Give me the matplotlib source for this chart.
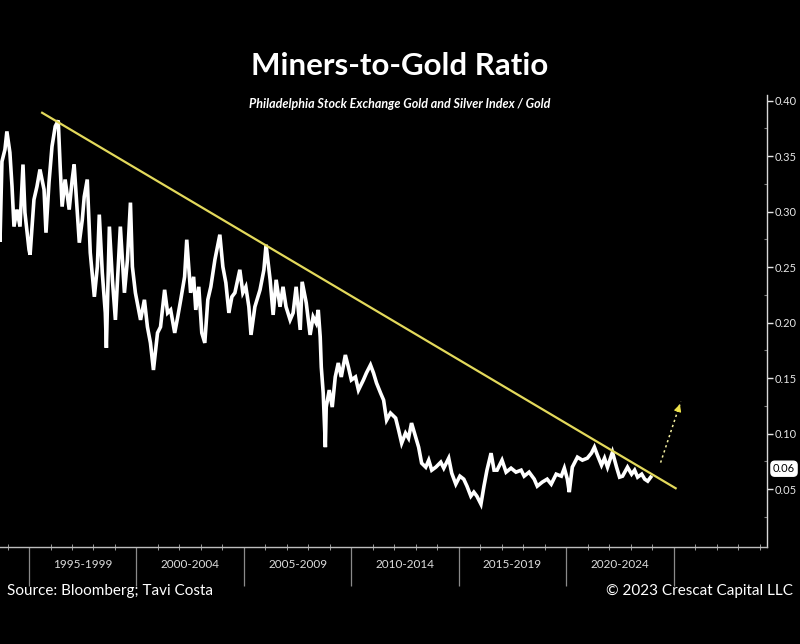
import matplotlib
matplotlib.use("Agg")
import matplotlib.pyplot as plt
import matplotlib.transforms as mtransforms
from matplotlib.ticker import FixedLocator

# ---------------- data ----------------
years = [
    1993.55, 1993.65, 1993.74, 1993.88, 1993.97, 1994.11, 1994.21, 1994.30, 1994.44, 1994.58,
    1994.72, 1994.81, 1995.00, 1995.05, 1995.23, 1995.37, 1995.51, 1995.70, 1995.79, 1995.93,
    1996.07, 1996.22, 1996.36, 1996.45, 1996.54, 1996.68, 1996.87, 1997.01, 1997.10, 1997.24,
    1997.34, 1997.48, 1997.57, 1997.71, 1997.85, 1998.04, 1998.18, 1998.27, 1998.41, 1998.55,
    1998.60, 1998.74, 1998.88, 1999.02, 1999.25, 1999.44, 1999.58, 1999.72, 1999.81, 1999.95,
    2000.19, 2000.37, 2000.51, 2000.65, 2000.79, 2000.98, 2001.12, 2001.31, 2001.45, 2001.59,
    2001.78, 2001.92, 2002.06, 2002.24, 2002.34, 2002.52, 2002.66, 2002.76, 2002.90, 2003.04,
    2003.18, 2003.32, 2003.46, 2003.65, 2003.88, 2004.02, 2004.16, 2004.30, 2004.44, 2004.58,
    2004.81, 2004.95, 2005.09, 2005.23, 2005.33, 2005.51, 2005.75, 2005.93, 2006.03, 2006.22,
    2006.36, 2006.50, 2006.68, 2006.82, 2006.96, 2007.15, 2007.29, 2007.43, 2007.62, 2007.71,
    2007.90, 2008.08, 2008.22, 2008.36, 2008.46, 2008.55, 2008.60, 2008.69, 2008.79, 2008.83,
    2008.97, 2009.11, 2009.25, 2009.39, 2009.53, 2009.72, 2009.86, 2010.00, 2010.19, 2010.33,
    2010.56, 2010.70, 2010.89, 2011.03, 2011.17, 2011.36, 2011.50, 2011.64, 2011.82, 2012.06,
    2012.20, 2012.34, 2012.52, 2012.66, 2012.80, 2012.99, 2013.13, 2013.27, 2013.46, 2013.60,
    2013.74, 2013.93, 2014.16, 2014.30, 2014.53, 2014.67, 2014.86, 2015.05, 2015.23, 2015.38,
    2015.56, 2015.70, 2015.84, 2016.03, 2016.17, 2016.31, 2016.50, 2016.64, 2016.78, 2017.01,
    2017.20, 2017.43, 2017.66, 2017.90, 2018.04, 2018.27, 2018.51, 2018.65, 2018.88, 2019.11,
    2019.30, 2019.53, 2019.77, 2019.91, 2020.05, 2020.14, 2020.28, 2020.52, 2020.75, 2020.98,
    2021.17, 2021.31, 2021.45, 2021.64, 2021.78, 2021.92, 2022.15, 2022.34, 2022.48, 2022.62,
    2022.85, 2023.04, 2023.18, 2023.32, 2023.51, 2023.65, 2023.79, 2023.93,
]
ratio = [
    0.3180, 0.2729, 0.3451, 0.3559, 0.3722, 0.3532, 0.3226, 0.2865, 0.3018, 0.2865,
    0.3424, 0.2991, 0.2657, 0.2612, 0.3108, 0.3226, 0.3379, 0.3198, 0.2810, 0.3262,
    0.3587, 0.3767, 0.3821, 0.3406, 0.3045, 0.3289, 0.3018, 0.3289, 0.3424, 0.3018,
    0.2720, 0.2928, 0.3135, 0.3289, 0.2630, 0.2233, 0.2504, 0.2973, 0.2449, 0.2088,
    0.1773, 0.2865, 0.2386, 0.2025, 0.2865, 0.2269, 0.2567, 0.3081, 0.2504, 0.2269,
    0.2025, 0.2206, 0.1962, 0.1818, 0.1574, 0.1908, 0.1962, 0.2296, 0.2088, 0.2115,
    0.1908, 0.2052, 0.2206, 0.2413, 0.2747, 0.2269, 0.2413, 0.2115, 0.2323, 0.1908,
    0.1818, 0.2206, 0.2323, 0.2567, 0.2792, 0.2504, 0.2359, 0.2088, 0.2233, 0.2269,
    0.2476, 0.2269, 0.2323, 0.2143, 0.1890, 0.2143, 0.2296, 0.2476, 0.2702, 0.2386,
    0.2070, 0.2386, 0.2143, 0.2323, 0.2143, 0.2025, 0.2088, 0.2323, 0.1935, 0.2368,
    0.2179, 0.1890, 0.2052, 0.1998, 0.2115, 0.1872, 0.1601, 0.1366, 0.0879, 0.1240,
    0.1393, 0.1240, 0.1511, 0.1637, 0.1511, 0.1709, 0.1601, 0.1484, 0.1511, 0.1393,
    0.1484, 0.1547, 0.1619, 0.1547, 0.1457, 0.1366, 0.1303, 0.1123, 0.1186, 0.1141,
    0.1032, 0.0915, 0.1005, 0.0960, 0.1096, 0.0969, 0.0879, 0.0735, 0.0699, 0.0762,
    0.0672, 0.0699, 0.0744, 0.0690, 0.0780, 0.0645, 0.0546, 0.0618, 0.0591, 0.0528,
    0.0438, 0.0474, 0.0438, 0.0366, 0.0528, 0.0672, 0.0825, 0.0672, 0.0672, 0.0762,
    0.0654, 0.0690, 0.0654, 0.0672, 0.0618, 0.0654, 0.0591, 0.0528, 0.0564, 0.0591,
    0.0546, 0.0636, 0.0618, 0.0690, 0.0591, 0.0474, 0.0699, 0.0789, 0.0762, 0.0780,
    0.0825, 0.0879, 0.0807, 0.0717, 0.0780, 0.0699, 0.0834, 0.0699, 0.0609, 0.0618,
    0.0699, 0.0636, 0.0672, 0.0609, 0.0636, 0.0591, 0.0573, 0.0609,
]

trend_years = [1995.61, 2025.09]
trend_values = [0.389, 0.0509]

arrow_years = [2024.39, 2025.33]
arrow_values = [0.074, 0.129]

period_starts = [1995, 2000, 2005, 2010, 2015, 2020, 2025]
period_labels = ["1995-1999", "2000-2004", "2005-2009", "2010-2014", "2015-2019", "2020-2024"]
year_ticks = list(range(1994, 2030))
y_ticks = [0.05, 0.10, 0.15, 0.20, 0.25, 0.30, 0.35, 0.40]
y_minor = [0.025, 0.075, 0.125, 0.175, 0.225, 0.275, 0.325, 0.375]
last_label = "0.06"
last_label_pos = 0.0685

title = "Miners-to-Gold Ratio"
subtitle = "Philadelphia Stock Exchange Gold and Silver Index / Gold"
source = "Source: Bloomberg; Tavi Costa"
copyright_txt = "\u00a9 2023 Crescat Capital LLC"

# ---------------- figure ----------------
plt.rcParams['font.family'] = ['Lato', 'DejaVu Sans']

fig = plt.figure(figsize=(8, 6.44), dpi=100, facecolor='black')
ax = fig.add_axes([0.0, 0.1506, 0.959, 0.7019])
ax.set_facecolor('black')

ax.plot(years, ratio, color='white', lw=2.6, solid_joinstyle='miter', zorder=3)
ax.plot(trend_years, trend_values, color='#e3d95b', lw=1.6, zorder=4)

# dotted arrow
ax.plot(arrow_years, arrow_values, color='#f2eea0', lw=1.1, ls=(0, (1.5, 2)), zorder=4)
ax.annotate('', xy=(arrow_years[1], arrow_values[1]),
            xytext=(arrow_years[1] - 0.15, arrow_values[1] - 0.0088),
            arrowprops=dict(arrowstyle='-|>', color='#eee24a', lw=0.8, mutation_scale=11),
            zorder=5)

ax.set_xlim(1993.65, 2029.35)
ax.set_ylim(-0.002, 0.405)

for s in ['top', 'left']:
    ax.spines[s].set_visible(False)
ax.spines['right'].set_color('#d8d8d8')
ax.spines['bottom'].set_color('#bdbdbd')
ax.spines['right'].set_linewidth(1.0)
ax.spines['bottom'].set_linewidth(1.0)

# y axis on the right
ax.yaxis.tick_right()
ax.yaxis.set_major_locator(FixedLocator(y_ticks))
ax.yaxis.set_minor_locator(FixedLocator(y_minor))
ax.set_yticklabels([f"{v:.2f}" for v in y_ticks])
ax.tick_params(axis='y', which='major', colors='#e6e6e6', labelsize=8, length=4,
               width=1, direction='out', pad=1.5)
ax.tick_params(axis='y', which='minor', colors='#7a7a7a', length=2, width=0.8,
               direction='in')

# x axis: period dividers and yearly minor ticks
ax.xaxis.set_major_locator(FixedLocator(period_starts))
ax.xaxis.set_minor_locator(FixedLocator(year_ticks))
ax.tick_params(axis='x', which='major', colors='#8a8a8a', length=28, width=0.9,
               direction='out', labelbottom=False)
ax.tick_params(axis='x', which='minor', colors='#9a9a9a', length=4, width=0.7,
               direction='inout')

trans = mtransforms.blended_transform_factory(ax.transData, ax.transAxes)
for i, lab in enumerate(period_labels):
    mid = (period_starts[i] + period_starts[i + 1]) / 2
    ax.text(mid, -0.038, lab, transform=trans, ha='center', va='center',
            color='#dcdcdc', fontsize=8.5, clip_on=False)

# last value box
trans_y = mtransforms.blended_transform_factory(ax.transAxes, ax.transData)
ax.text(1.0075, last_label_pos, last_label, transform=trans_y, ha='left', va='center',
        color='black', fontsize=8, clip_on=False, zorder=6,
        bbox=dict(boxstyle='round,pad=0.18,rounding_size=0.35', facecolor='white',
                  edgecolor='white'))

# titles and footers
fig.text(0.5, 1 - 66 / 644, title, ha='center', va='center', color='white',
         fontsize=22.5, fontweight='bold')
fig.text(0.5, 1 - 104 / 644, subtitle, ha='center', va='center', color='white',
         fontsize=9, fontweight='bold', style='italic')
fig.text(7 / 800, 1 - 591 / 644, source, ha='left', va='center', color='white',
         fontsize=11)
fig.text(793 / 800, 1 - 591 / 644, copyright_txt, ha='right', va='center', color='white',
         fontsize=11)

fig.savefig('out.png', dpi=100, facecolor='black')
